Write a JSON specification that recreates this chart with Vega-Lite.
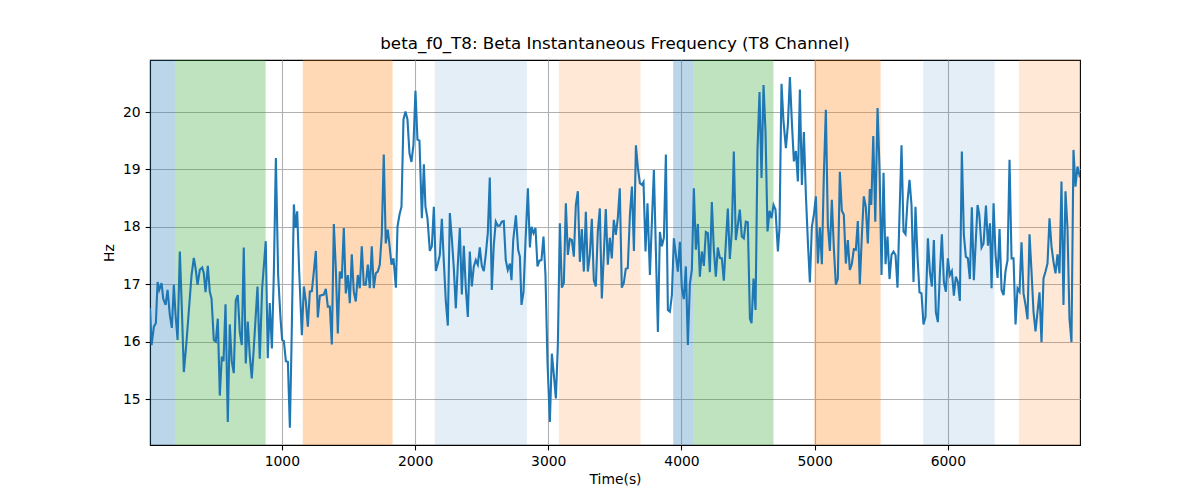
{
  "$schema": "https://vega.github.io/schema/vega-lite/v6.json",
  "description": "Beta instantaneous frequency of the T8 channel over time, with shaded phases.",
  "width": 930,
  "height": 385,
  "autosize": "none",
  "padding": {"left": 150, "top": 60, "right": 120, "bottom": 55},
  "background": "white",
  "config": {
    "font": "DejaVu Sans",
    "view": {"stroke": "black", "strokeWidth": 1.1},
    "axis": {
      "domainColor": "black",
      "domainWidth": 1.1,
      "tickColor": "black",
      "tickSize": 4.9,
      "tickWidth": 1.1,
      "labelColor": "black",
      "labelFontSize": 13.9,
      "labelFont": "DejaVu Sans",
      "titleFont": "DejaVu Sans",
      "titleFontSize": 13.9,
      "titleFontWeight": "normal",
      "titleColor": "black",
      "gridColor": "#b0b0b0",
      "gridWidth": 1.1,
      "gridOpacity": 1
    },
    "title": {"font": "DejaVu Sans", "fontSize": 16.7, "fontWeight": "normal", "color": "black", "offset": 7}
  },
  "title": "beta_f0_T8: Beta Instantaneous Frequency (T8 Channel)",
  "datasets": {
    "bands": [
      {"start": 10, "end": 197, "phase": "p1"},
      {"start": 197, "end": 878, "phase": "p2"},
      {"start": 1157, "end": 1831, "phase": "p3"},
      {"start": 2148, "end": 2839, "phase": "p4"},
      {"start": 3079, "end": 3693, "phase": "p5"},
      {"start": 3938, "end": 4088, "phase": "p1"},
      {"start": 4088, "end": 4691, "phase": "p2"},
      {"start": 4997, "end": 5495, "phase": "p3"},
      {"start": 5815, "end": 6351, "phase": "p4"},
      {"start": 6533, "end": 6992, "phase": "p5"}
    ],
    "signal": [
      {"t":10,"hz":16.58},{"t":22,"hz":15.94},{"t":39,"hz":16.26},{"t":54,"hz":16.32},{"t":67,"hz":17.04},{"t":79,"hz":16.9},{"t":97,"hz":17.02},{"t":109,"hz":16.75},{"t":127,"hz":16.64},{"t":142,"hz":16.9},{"t":159,"hz":16.46},{"t":174,"hz":16.24},{"t":189,"hz":16.99},{"t":202,"hz":16.46},{"t":217,"hz":16.03},{"t":234,"hz":17.57},{"t":249,"hz":16.58},{"t":264,"hz":15.47},{"t":282,"hz":15.94},{"t":299,"hz":16.46},{"t":322,"hz":17.16},{"t":339,"hz":17.46},{"t":352,"hz":17.28},{"t":367,"hz":16.99},{"t":384,"hz":17.25},{"t":402,"hz":17.29},{"t":414,"hz":17.19},{"t":427,"hz":16.86},{"t":444,"hz":17.32},{"t":459,"hz":16.87},{"t":472,"hz":16.75},{"t":489,"hz":16.03},{"t":504,"hz":16.0},{"t":519,"hz":16.4},{"t":534,"hz":15.06},{"t":549,"hz":15.74},{"t":562,"hz":15.66},{"t":577,"hz":16.65},{"t":594,"hz":14.6},{"t":609,"hz":16.3},{"t":624,"hz":15.65},{"t":639,"hz":15.45},{"t":654,"hz":16.72},{"t":669,"hz":16.81},{"t":684,"hz":16.17},{"t":699,"hz":15.94},{"t":714,"hz":17.64},{"t":729,"hz":15.62},{"t":744,"hz":16.35},{"t":759,"hz":15.76},{"t":774,"hz":15.36},{"t":789,"hz":15.88},{"t":817,"hz":16.96},{"t":834,"hz":15.7},{"t":852,"hz":16.93},{"t":879,"hz":17.75},{"t":894,"hz":15.71},{"t":909,"hz":16.67},
      {"t":925,"hz":15.88},{"t":940,"hz":17.22},{"t":955,"hz":19.2},{"t":972,"hz":17.16},{"t":990,"hz":16.4},{"t":1002,"hz":16.03},{"t":1015,"hz":16.01},{"t":1030,"hz":15.66},{"t":1045,"hz":15.65},{"t":1060,"hz":14.5},{"t":1072,"hz":15.88},{"t":1090,"hz":18.39},{"t":1102,"hz":17.98},{"t":1115,"hz":18.27},{"t":1130,"hz":17.22},{"t":1150,"hz":16.11},{"t":1165,"hz":16.96},{"t":1180,"hz":16.7},{"t":1195,"hz":16.26},{"t":1210,"hz":16.87},{"t":1225,"hz":16.88},{"t":1240,"hz":17.22},{"t":1255,"hz":17.58},{"t":1270,"hz":16.42},{"t":1285,"hz":16.8},{"t":1300,"hz":16.81},{"t":1315,"hz":16.82},{"t":1330,"hz":16.92},{"t":1345,"hz":16.61},{"t":1360,"hz":16.61},{"t":1375,"hz":15.95},{"t":1390,"hz":18.05},{"t":1405,"hz":17.28},{"t":1420,"hz":16.14},{"t":1435,"hz":17.22},{"t":1450,"hz":17.1},{"t":1465,"hz":17.98},{"t":1480,"hz":16.84},{"t":1495,"hz":17.16},{"t":1510,"hz":16.67},{"t":1525,"hz":17.52},{"t":1540,"hz":16.87},{"t":1555,"hz":16.7},{"t":1570,"hz":17.16},{"t":1585,"hz":16.93},{"t":1600,"hz":17.66},{"t":1615,"hz":16.99},{"t":1630,"hz":16.99},{"t":1645,"hz":17.34},{"t":1660,"hz":16.93},{"t":1675,"hz":17.66},{"t":1690,"hz":16.93},{"t":1705,"hz":17.19},{"t":1720,"hz":17.22},{"t":1735,"hz":17.34},{"t":1750,"hz":17.86},{"t":1765,"hz":19.26},{"t":1780,"hz":17.71},{"t":1795,"hz":17.95},
      {"t":1808,"hz":17.68},{"t":1823,"hz":17.34},{"t":1838,"hz":17.45},{"t":1856,"hz":16.94},{"t":1868,"hz":18.0},{"t":1883,"hz":18.21},{"t":1898,"hz":18.35},{"t":1913,"hz":19.87},{"t":1928,"hz":20.01},{"t":1943,"hz":19.87},{"t":1958,"hz":19.28},{"t":1973,"hz":19.13},{"t":1988,"hz":19.43},{"t":2003,"hz":20.37},{"t":2018,"hz":19.52},{"t":2033,"hz":19.5},{"t":2051,"hz":18.15},{"t":2066,"hz":19.09},{"t":2078,"hz":18.35},{"t":2093,"hz":18.15},{"t":2111,"hz":17.58},{"t":2126,"hz":17.66},{"t":2141,"hz":18.35},{"t":2156,"hz":17.23},{"t":2171,"hz":17.36},{"t":2186,"hz":17.51},{"t":2201,"hz":18.14},{"t":2216,"hz":17.39},{"t":2231,"hz":16.7},{"t":2246,"hz":16.28},{"t":2261,"hz":18.24},{"t":2276,"hz":17.8},{"t":2291,"hz":17.28},{"t":2306,"hz":16.58},{"t":2321,"hz":17.34},{"t":2336,"hz":17.98},{"t":2351,"hz":16.82},{"t":2366,"hz":17.67},{"t":2381,"hz":16.93},{"t":2396,"hz":16.43},{"t":2411,"hz":17.57},{"t":2426,"hz":16.96},{"t":2441,"hz":17.31},{"t":2456,"hz":17.42},{"t":2471,"hz":17.34},{"t":2486,"hz":17.64},{"t":2501,"hz":17.32},{"t":2516,"hz":17.23},{"t":2531,"hz":17.52},{"t":2546,"hz":17.89},{"t":2561,"hz":18.86},{"t":2576,"hz":16.9},{"t":2591,"hz":17.68},{"t":2606,"hz":18.09},{"t":2621,"hz":18.02},{"t":2636,"hz":18.02},{"t":2651,"hz":18.09},{"t":2666,"hz":18.1},{"t":2681,"hz":17.42},{"t":2696,"hz":17.25},
      {"t":2712,"hz":17.36},{"t":2724,"hz":17.07},{"t":2737,"hz":17.77},{"t":2757,"hz":18.2},{"t":2774,"hz":17.6},{"t":2787,"hz":17.48},{"t":2799,"hz":16.64},{"t":2814,"hz":16.86},{"t":2829,"hz":17.74},{"t":2847,"hz":18.67},{"t":2862,"hz":17.64},{"t":2874,"hz":18.0},{"t":2889,"hz":17.89},{"t":2904,"hz":17.98},{"t":2919,"hz":17.31},{"t":2934,"hz":17.41},{"t":2949,"hz":17.42},{"t":2964,"hz":17.83},{"t":2979,"hz":17.16},{"t":2994,"hz":15.65},{"t":3012,"hz":14.6},{"t":3027,"hz":15.79},{"t":3042,"hz":15.42},{"t":3057,"hz":15.01},{"t":3072,"hz":15.94},{"t":3087,"hz":18.06},{"t":3102,"hz":16.94},{"t":3117,"hz":17.02},{"t":3132,"hz":18.41},{"t":3147,"hz":17.51},{"t":3162,"hz":17.79},{"t":3177,"hz":17.77},{"t":3192,"hz":17.48},{"t":3207,"hz":18.38},{"t":3222,"hz":18.62},{"t":3237,"hz":17.39},{"t":3252,"hz":17.96},{"t":3267,"hz":17.22},{"t":3282,"hz":18.26},{"t":3297,"hz":17.22},{"t":3312,"hz":17.51},{"t":3327,"hz":18.14},{"t":3342,"hz":17.07},{"t":3357,"hz":16.96},{"t":3372,"hz":17.92},{"t":3387,"hz":18.32},{"t":3402,"hz":16.75},{"t":3417,"hz":17.51},{"t":3432,"hz":18.31},{"t":3447,"hz":17.34},{"t":3462,"hz":17.81},{"t":3477,"hz":17.45},{"t":3492,"hz":18.12},{"t":3507,"hz":17.86},{"t":3522,"hz":18.15},{"t":3537,"hz":18.67},{"t":3552,"hz":16.94},{"t":3567,"hz":17.02},{"t":3582,"hz":17.27},{"t":3597,"hz":17.28},
      {"t":3613,"hz":18.21},{"t":3628,"hz":18.7},{"t":3643,"hz":17.58},{"t":3658,"hz":19.42},{"t":3673,"hz":19.02},{"t":3688,"hz":18.76},{"t":3703,"hz":18.73},{"t":3715,"hz":18.78},{"t":3730,"hz":17.57},{"t":3745,"hz":18.41},{"t":3763,"hz":17.16},{"t":3778,"hz":18.09},{"t":3793,"hz":18.99},{"t":3808,"hz":17.57},{"t":3823,"hz":16.17},{"t":3838,"hz":17.91},{"t":3853,"hz":17.66},{"t":3868,"hz":17.81},{"t":3883,"hz":19.26},{"t":3898,"hz":16.55},{"t":3913,"hz":16.52},{"t":3928,"hz":16.81},{"t":3943,"hz":17.8},{"t":3958,"hz":17.51},{"t":3973,"hz":17.22},{"t":3988,"hz":17.74},{"t":4003,"hz":16.93},{"t":4018,"hz":16.74},{"t":4033,"hz":17.31},{"t":4048,"hz":15.94},{"t":4063,"hz":17.0},{"t":4078,"hz":17.25},{"t":4093,"hz":18.67},{"t":4108,"hz":17.6},{"t":4123,"hz":18.05},{"t":4138,"hz":17.13},{"t":4153,"hz":17.57},{"t":4168,"hz":17.32},{"t":4183,"hz":17.91},{"t":4198,"hz":17.89},{"t":4213,"hz":17.21},{"t":4228,"hz":18.43},{"t":4243,"hz":17.6},{"t":4258,"hz":17.13},{"t":4273,"hz":17.64},{"t":4288,"hz":17.46},{"t":4303,"hz":17.45},{"t":4318,"hz":17.06},{"t":4333,"hz":17.71},{"t":4348,"hz":18.32},{"t":4363,"hz":17.44},{"t":4378,"hz":17.92},{"t":4393,"hz":19.31},{"t":4408,"hz":17.77},{"t":4423,"hz":18.03},{"t":4438,"hz":18.3},{"t":4453,"hz":17.83},{"t":4468,"hz":17.8},{"t":4483,"hz":18.09},{"t":4498,"hz":18.08},
      {"t":4514,"hz":16.4},{"t":4526,"hz":16.32},{"t":4541,"hz":17.1},{"t":4556,"hz":16.55},{"t":4571,"hz":19.37},{"t":4586,"hz":20.35},{"t":4601,"hz":18.85},{"t":4616,"hz":20.47},{"t":4631,"hz":19.66},{"t":4646,"hz":17.92},{"t":4661,"hz":18.28},{"t":4676,"hz":18.15},{"t":4691,"hz":18.38},{"t":4706,"hz":18.3},{"t":4724,"hz":17.57},{"t":4736,"hz":17.98},{"t":4751,"hz":20.49},{"t":4766,"hz":19.84},{"t":4784,"hz":19.37},{"t":4799,"hz":19.78},{"t":4814,"hz":20.61},{"t":4829,"hz":19.81},{"t":4844,"hz":19.14},{"t":4859,"hz":19.32},{"t":4874,"hz":18.79},{"t":4889,"hz":20.39},{"t":4904,"hz":18.73},{"t":4919,"hz":19.65},{"t":4934,"hz":18.56},{"t":4949,"hz":17.74},{"t":4964,"hz":17.03},{"t":4979,"hz":18.0},{"t":4994,"hz":18.21},{"t":5009,"hz":18.53},{"t":5024,"hz":17.36},{"t":5039,"hz":17.99},{"t":5054,"hz":17.35},{"t":5069,"hz":18.91},{"t":5084,"hz":20.04},{"t":5099,"hz":18.03},{"t":5114,"hz":17.58},{"t":5129,"hz":18.47},{"t":5144,"hz":17.63},{"t":5159,"hz":16.99},{"t":5174,"hz":17.1},{"t":5189,"hz":18.96},{"t":5204,"hz":18.28},{"t":5219,"hz":18.21},{"t":5234,"hz":17.36},{"t":5249,"hz":17.77},{"t":5264,"hz":17.25},{"t":5279,"hz":17.35},{"t":5294,"hz":17.61},{"t":5309,"hz":17.6},{"t":5324,"hz":18.1},{"t":5339,"hz":17.0},{"t":5354,"hz":17.83},{"t":5369,"hz":18.53},{"t":5384,"hz":18.35},{"t":5399,"hz":17.71},
      {"t":5414,"hz":18.66},{"t":5425,"hz":18.38},{"t":5440,"hz":19.58},{"t":5455,"hz":18.09},{"t":5472,"hz":20.07},{"t":5487,"hz":19.02},{"t":5502,"hz":17.16},{"t":5517,"hz":18.94},{"t":5532,"hz":17.35},{"t":5547,"hz":17.83},{"t":5562,"hz":17.09},{"t":5577,"hz":17.51},{"t":5592,"hz":17.57},{"t":5607,"hz":17.51},{"t":5622,"hz":16.94},{"t":5637,"hz":18.21},{"t":5652,"hz":19.42},{"t":5667,"hz":17.92},{"t":5682,"hz":17.87},{"t":5697,"hz":18.44},{"t":5712,"hz":18.82},{"t":5727,"hz":18.38},{"t":5742,"hz":17.04},{"t":5757,"hz":18.35},{"t":5772,"hz":17.48},{"t":5787,"hz":16.86},{"t":5802,"hz":16.84},{"t":5817,"hz":16.3},{"t":5832,"hz":16.43},{"t":5850,"hz":17.8},{"t":5865,"hz":17.22},{"t":5880,"hz":16.96},{"t":5895,"hz":17.77},{"t":5910,"hz":16.51},{"t":5925,"hz":16.34},{"t":5940,"hz":17.19},{"t":5955,"hz":17.87},{"t":5970,"hz":17.04},{"t":5985,"hz":16.87},{"t":6000,"hz":17.45},{"t":6015,"hz":17.16},{"t":6030,"hz":17.23},{"t":6045,"hz":16.8},{"t":6060,"hz":17.13},{"t":6075,"hz":17.04},{"t":6090,"hz":16.71},{"t":6105,"hz":19.31},{"t":6120,"hz":17.86},{"t":6135,"hz":17.48},{"t":6150,"hz":17.45},{"t":6165,"hz":17.09},{"t":6180,"hz":18.34},{"t":6195,"hz":17.07},
      {"t":6210,"hz":17.77},{"t":6223,"hz":18.38},{"t":6236,"hz":18.21},{"t":6253,"hz":17.64},{"t":6268,"hz":17.71},{"t":6286,"hz":18.37},{"t":6301,"hz":17.67},{"t":6316,"hz":18.06},{"t":6328,"hz":16.93},{"t":6343,"hz":18.41},{"t":6358,"hz":17.51},{"t":6373,"hz":17.11},{"t":6388,"hz":17.96},{"t":6403,"hz":16.9},{"t":6418,"hz":16.81},{"t":6433,"hz":17.23},{"t":6448,"hz":17.42},{"t":6463,"hz":19.17},{"t":6478,"hz":17.45},{"t":6493,"hz":17.45},{"t":6508,"hz":16.3},{"t":6523,"hz":16.93},{"t":6538,"hz":16.87},{"t":6553,"hz":17.73},{"t":6568,"hz":16.84},{"t":6583,"hz":16.64},{"t":6598,"hz":16.39},{"t":6613,"hz":17.87},{"t":6628,"hz":17.22},{"t":6643,"hz":16.52},{"t":6658,"hz":16.18},{"t":6673,"hz":16.52},{"t":6688,"hz":16.86},{"t":6703,"hz":15.99},{"t":6718,"hz":17.1},{"t":6733,"hz":17.22},{"t":6748,"hz":17.36},{"t":6763,"hz":18.15},{"t":6778,"hz":17.66},{"t":6793,"hz":17.39},{"t":6808,"hz":17.19},{"t":6823,"hz":17.52},{"t":6838,"hz":17.19},{"t":6853,"hz":18.79},{"t":6868,"hz":16.64},{"t":6883,"hz":18.62},{"t":6898,"hz":17.98},{"t":6913,"hz":16.4},{"t":6928,"hz":15.99},{"t":6943,"hz":19.34},{"t":6958,"hz":18.7},{"t":6973,"hz":19.05},{"t":6992,"hz":18.86}
    ]
  },
  "layer": [
    {
      "data": {"name": "bands"},
      "mark": {"type": "rect"},
      "encoding": {
        "x": {"field": "start", "type": "quantitative", "scale": {"domain": [10, 6992], "nice": false, "zero": false}, "title": "Time(s)",
              "axis": {"values": [1000, 2000, 3000, 4000, 5000, 6000], "format": "d", "grid": true, "labelPadding": 4.9, "titlePadding": 4}},
        "x2": {"field": "end"},
        "color": {"field": "phase", "type": "nominal", "legend": null,
                  "scale": {"domain": ["p1", "p2", "p3", "p4", "p5"],
                            "range": ["rgba(31,119,180,0.3)", "rgba(44,160,44,0.3)", "rgba(255,127,14,0.3)", "rgba(31,119,180,0.12)", "rgba(255,127,14,0.17)"]}}
      }
    },
    {
      "data": {"name": "signal"},
      "mark": {"type": "line", "color": "#1f77b4", "strokeWidth": 2.1, "clip": true},
      "encoding": {
        "x": {"field": "t", "type": "quantitative"},
        "y": {"field": "hz", "type": "quantitative", "scale": {"domain": [14.199, 20.906], "nice": false, "zero": false}, "title": "Hz",
              "axis": {"values": [15, 16, 17, 18, 19, 20], "format": "d", "grid": true, "labelPadding": 4.9, "titlePadding": 6}}
      }
    }
  ]
}
